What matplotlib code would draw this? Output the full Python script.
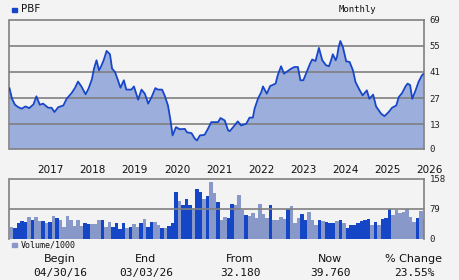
import matplotlib
matplotlib.use("Agg")
import matplotlib.pyplot as plt
import numpy as np

# ---------------- data ----------------
ticker = "PBF"
period = "Monthly"
price_dates = [2016.33, 2016.39, 2016.46, 2016.54, 2016.62, 2016.71, 2016.80, 2016.90, 2016.97,
               2017.05, 2017.13, 2017.25, 2017.33, 2017.40, 2017.49, 2017.61, 2017.69, 2017.81,
               2017.89, 2017.96, 2018.04, 2018.14, 2018.21, 2018.29, 2018.34, 2018.40, 2018.46,
               2018.52, 2018.57, 2018.64, 2018.72, 2018.77, 2018.84, 2018.91, 2018.97, 2019.05,
               2019.11, 2019.23, 2019.29, 2019.39, 2019.47, 2019.55, 2019.63, 2019.71, 2019.80,
               2019.86, 2019.96, 2020.02, 2020.10, 2020.16, 2020.21, 2020.29, 2020.38, 2020.50,
               2020.55, 2020.66, 2020.74, 2020.79, 2020.86, 2020.97, 2021.05, 2021.13, 2021.29,
               2021.35, 2021.45, 2021.53, 2021.57, 2021.65, 2021.76, 2021.84, 2021.96, 2022.04,
               2022.12, 2022.16, 2022.24, 2022.32, 2022.36, 2022.45, 2022.53, 2022.66, 2022.71,
               2022.79, 2022.86, 2022.95, 2023.03, 2023.11, 2023.19, 2023.25, 2023.32, 2023.40,
               2023.48, 2023.53, 2023.61, 2023.69, 2023.77, 2023.86, 2023.93, 2023.98, 2024.02,
               2024.09, 2024.12, 2024.16, 2024.20, 2024.26, 2024.34, 2024.42, 2024.50, 2024.56,
               2024.64, 2024.73, 2024.83, 2024.89, 2024.98, 2025.05, 2025.17, 2025.25, 2025.35,
               2025.43, 2025.53, 2025.59, 2025.67, 2025.75, 2025.80, 2025.86, 2025.91, 2025.99,
               2026.06, 2026.14, 2026.17]
price_values = [32.2, 26.6, 23.4, 22.1, 21.3, 22.5, 21.6, 23.6, 27.9,
                23.4, 24.0, 21.8, 21.8, 19.5, 22.1, 23.0, 26.6, 29.7,
                32.5, 35.8, 33.2, 29.0, 32.0, 37.0, 42.7, 47.2, 41.8,
                44.5, 47.2, 52.2, 50.4, 42.7, 40.9, 36.5, 32.5, 36.5,
                31.5, 31.5, 33.2, 26.1, 31.5, 29.3, 24.0, 27.5, 32.3,
                31.5, 31.5, 28.4, 23.0, 15.0, 7.0, 11.4, 10.3, 10.5,
                8.7, 8.2, 5.2, 4.3, 7.0, 7.3, 10.5, 14.1, 14.1,
                16.3, 15.0, 9.7, 9.3, 11.4, 14.5, 12.3, 13.2, 16.5,
                16.5, 21.3, 26.6, 30.2, 33.2, 29.3, 33.4, 34.7, 39.1,
                44.0, 40.0, 41.4, 42.7, 43.6, 43.6, 36.5, 36.5, 40.9,
                45.4, 47.6, 46.8, 53.8, 47.2, 44.5, 44.0, 47.2, 50.4,
                47.2, 49.0, 54.3, 57.5, 54.3, 46.6, 46.3, 41.8, 35.6,
                32.0, 28.4, 31.1, 26.6, 28.8, 22.5, 18.6, 17.3, 19.5,
                21.8, 23.0, 27.5, 29.7, 33.2, 34.7, 33.9, 26.6, 31.1,
                35.6, 39.1, 39.76]

vol_start = 2016.33  # first monthly bar (Apr 2016)
volume = [31.6, 29, 42, 47, 44.7, 58, 50, 58, 47, 47, 42, 44.7, 60.5, 55, 50, 31.6, 60.5, 50, 34, 50,
          34, 42, 39.5, 39.5, 39.5, 50, 50, 31.6, 44.7, 31.6, 42, 26, 42, 29, 31.6, 39.5, 31.6, 42, 52.6, 31.6, 44.7,
          44.7, 36.8, 29, 29, 34, 42, 123.7, 100, 89.5, 105, 89.5, 79, 131.6, 123.7, 105, 113, 150, 121, 97, 50,
          58, 55, 92, 89.5, 115.8, 76, 63, 60.5, 68.4, 55, 92, 65.8, 55, 89.5, 50, 50, 58, 52.6, 79, 86.8,
          41, 54, 66, 50, 71, 50, 37, 50, 47, 44.7, 42, 42, 47, 50, 42, 29, 37, 37, 42, 47,
          50, 52.6, 37, 44.7, 37, 52.6, 55, 79, 63, 76, 68.4, 71, 79, 58, 44.7, 55, 73.7, 52.6]
volume_kind = ("LDDDDLDLLDLDLDLLLLLL"
               "LDDLLLDLLDDDDLDLLDLDD"
               "LLDLDDDLDDDLDDLDLLDL"
               "LDDLLLDLLLLLLDLLLLDL"
               "LLDDLLLDLDDDLDLDDDDDDDLDLDDDLLLLLLLDLL")

price_ticks = [0, 13, 27, 41, 55, 69]
volume_ticks = [0, 79, 158]
year_labels = [2017, 2018, 2019, 2020, 2021, 2022, 2023, 2024, 2025, 2026]

footer_heads = ["Begin", "End", "From", "Now", "% Change"]
footer_vals = ["04/30/16", "03/03/26", "32.180", "39.760", "23.55%"]

# ---------------- style ----------------
BG = "#f3f3f3"
GRID = "#808080"
LINE = "#1747c8"
FILL = "#9cafdc"
DARK = "#1446c6"
LIGHT = "#8898c8"
MONO = "DejaVu Sans Mono"
SANS = "DejaVu Sans"

W, H = 460, 280
fig = plt.figure(figsize=(W / 100, H / 100), dpi=100)
fig.patch.set_facecolor(BG)

def fx(px):
    return px / W

def fy(py):
    return 1 - py / H

x0, x1 = vol_start, 2026.19

# price axes
ax = fig.add_axes([fx(9.5), fy(148.5), fx(424) - fx(9.5), fy(19.5) - fy(148.5)])
ax.set_facecolor(BG)
ax.fill_between(price_dates, price_values, 0, color=FILL, lw=0, zorder=1)
ax.plot(price_dates, price_values, color=LINE, lw=1.3, zorder=3)
ax.set_xlim(x0, x1)
ax.set_ylim(0, 69)
for t in price_ticks[1:-1]:
    ax.axhline(t, color=GRID, lw=1.2, zorder=2)
for s in ["left", "right", "top", "bottom"]:
    ax.spines[s].set_color(GRID)
    ax.spines[s].set_linewidth(1.2)
ax.set_xticks([])
ax.yaxis.tick_right()
ax.set_yticks(price_ticks)
ax.set_yticklabels([str(t) for t in price_ticks], fontfamily=MONO, fontsize=6.5)
ax.tick_params(axis="y", length=0, pad=4, colors="#222222")

# volume axes
av = fig.add_axes([fx(9.5), fy(239), fx(424) - fx(9.5), fy(179) - fy(239)])
av.set_facecolor(BG)
bx = [vol_start + i / 12 for i in range(len(volume))]
cols = [DARK if k == "D" else LIGHT for k in volume_kind]
av.bar(bx, volume, width=1 / 12, align="edge", color=cols, lw=0, zorder=1, antialiased=False)
av.axhline(79, color=GRID, lw=1.2, zorder=2)
av.set_xlim(x0, x1)
av.set_ylim(0, 158)
for s in ["left", "right", "top"]:
    av.spines[s].set_color(GRID)
    av.spines[s].set_linewidth(1.2)
av.spines["bottom"].set_visible(False)
av.set_xticks([])
av.yaxis.tick_right()
av.set_yticks(volume_ticks)
av.set_yticklabels([str(t) for t in volume_ticks], fontfamily=MONO, fontsize=6.5)
av.tick_params(axis="y", length=0, pad=4, colors="#222222")

# year labels (left-aligned at year start)
for yr in year_labels:
    xd = ax.transData.transform((yr, 0))[0]
    fig.text(xd / fig.dpi / fig.get_figwidth(), fy(170), str(yr), ha="left", va="center",
             fontsize=7.5, family=SANS, color="#111111")

# header
fig.patches.append(plt.Rectangle((fx(12.5), fy(12)), fx(4), 4 / H, transform=fig.transFigure,
                                 color=DARK, figure=fig))
fig.text(fx(21), fy(9.5), ticker, ha="left", va="center", fontsize=7.5, family=SANS, color="#111111")
fig.text(fx(357), fy(9.5), period, ha="center", va="center", fontsize=6.5, family=MONO, color="#111111")

# volume legend
fig.patches.append(plt.Rectangle((fx(12.5), fy(247)), fx(4), 4 / H, transform=fig.transFigure,
                                 color=LIGHT, figure=fig))
fig.text(fx(20.5), fy(245), "Volume/1000", ha="left", va="center", fontsize=6, family=MONO,
         color="#111111")

# footer
head_x = [60, 146, 240, 330, 414]
for hx, h, v in zip(head_x, footer_heads, footer_vals):
    fig.text(fx(hx), fy(259), h, ha="center", va="center", fontsize=8, family=SANS, color="#111111")
    fig.text(fx(hx), fy(273), v, ha="center", va="center", fontsize=8, family=MONO, color="#111111")

fig.savefig("out.png", dpi=100, facecolor=BG)
